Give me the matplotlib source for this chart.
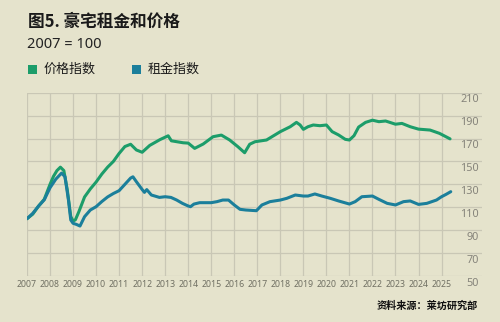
import numpy as np
import matplotlib
matplotlib.use("Agg")
import matplotlib.pyplot as plt
from matplotlib.patches import Rectangle
import matplotlib.transforms as mtrans

plt.rcParams['font.family'] = ['Noto Sans CJK SC', 'DejaVu Sans']

# price index (green)
price_years = [2007.0, 2007.25, 2007.5, 2007.75, 2008.0, 2008.15, 2008.3, 2008.45, 2008.6, 2008.75, 2008.9,
               2009.0, 2009.1, 2009.25, 2009.5, 2009.75, 2010.0, 2010.25, 2010.5, 2010.75, 2011.0,
               2011.25, 2011.5, 2011.75, 2012.0, 2012.33, 2012.77, 2013.13, 2013.27, 2013.78, 2014.0,
               2014.28, 2014.65, 2015.08, 2015.44, 2015.8, 2016.16, 2016.45, 2016.67, 2016.9, 2017.4,
               2018.0, 2018.43, 2018.7, 2018.86, 2019.0, 2019.2, 2019.43, 2019.72, 2020.0, 2020.25,
               2020.53, 2020.82, 2021.0, 2021.2, 2021.4, 2021.7, 2022.0, 2022.28, 2022.57, 2023.0,
               2023.28, 2023.64, 2024.0, 2024.5, 2024.91, 2025.37]
price_vals = [100, 104, 111, 117, 130, 137, 142, 145, 142, 125, 102,
              98, 99, 106, 119, 126, 132, 139, 145, 150, 157,
              163, 165, 160, 158, 164, 169, 172.4, 168, 166.3, 166,
              161.4, 165.2, 171.6, 173, 168.7, 162.8, 157.6, 165, 167.2, 168.7,
              176, 180.3, 184.1, 181.8, 178, 180.3, 181.8, 181.2, 181.8, 176,
              173.1, 169.3, 168.7, 172.5, 180, 184.1, 186, 184.7, 185.3, 182.5,
              183.2, 180.3, 178.2, 177.4, 174.5, 169.7]

# rent index (blue)
rent_years = [2007.0, 2007.25, 2007.5, 2007.75, 2008.0, 2008.25, 2008.5, 2008.65, 2008.8, 2008.9,
              2009.0, 2009.15, 2009.3, 2009.5, 2009.75, 2010.0, 2010.25, 2010.5, 2010.75, 2011.0,
              2011.25, 2011.5, 2011.6, 2011.75, 2012.0, 2012.1, 2012.2, 2012.4, 2012.75, 2013.0,
              2013.25, 2013.5, 2013.75, 2014.0, 2014.1, 2014.25, 2014.5, 2015.0, 2015.25, 2015.5,
              2015.75, 2016.0, 2016.25, 2016.5, 2016.96, 2017.2, 2017.55, 2018.0, 2018.28, 2018.65,
              2019.0, 2019.2, 2019.5, 2019.8, 2020.17, 2020.53, 2021.0, 2021.25, 2021.54, 2022.0,
              2022.28, 2022.64, 2023.0, 2023.35, 2023.64, 2024.0, 2024.36, 2024.78, 2025.0, 2025.2,
              2025.4]
rent_vals = [100, 104.7, 111, 116.5, 127, 134.5, 139.8, 136.7, 116.3, 98.9,
             96, 95, 93.6, 101.8, 107.6, 110.5, 115, 119, 122, 124.5,
             130, 135.5, 136.6, 132.3, 125.5, 123, 125.4, 120.7, 118.6, 119.2,
             118.6, 116.3, 113.4, 111.1, 110.5, 112.8, 114, 114, 114.9, 116.3,
             116.3, 112, 108.2, 107.6, 107, 112, 114.9, 116.3, 117.8, 120.7,
             119.8, 119.8, 121.6, 119.8, 117.8, 115.5, 112.8, 114.9, 119.2, 119.8,
             116.9, 113.4, 112, 114.9, 115.5, 112.5, 113.4, 116.3, 119.2, 121.3,
             123.6]

years = list(range(2007, 2026))
yticks = [50, 70, 90, 110, 130, 150, 170, 190, 210]

bg = '#e5e3cc'
green = '#1c9d6a'
blue = '#1b7f9b'
grid = '#c9c7b5'

fig = plt.figure(figsize=(5, 3.22), dpi=100, facecolor=bg)
ax = fig.add_axes([27/500, 46/322, 455/500, 183.3/322])
ax.set_facecolor(bg)

ax.plot(price_years, price_vals, color=green, lw=2.2, solid_capstyle='round', zorder=3)
ax.plot(rent_years, rent_vals, color=blue, lw=2.2, solid_capstyle='round', zorder=3)

ax.set_xlim(2007, 2007 + 455/23.03)
ax.set_ylim(50, 210)
for y in yticks:
    ax.axhline(y, color=grid, lw=0.9, zorder=1)
for yr in years:
    ax.axvline(yr, color=grid, lw=0.9, zorder=1)

for s in ax.spines.values():
    s.set_visible(False)
ax.set_yticks([])
ax.set_xticks(years)
ax.set_xticklabels([str(y) for y in years], fontsize=6.3, color='#707063', family=['Noto Sans'])
ax.tick_params(axis='x', length=0, pad=3)

off = mtrans.offset_copy(ax.get_yaxis_transform(), fig=fig, x=0, y=-5.2, units='points')
for y in yticks:
    ax.text(0.993, y, str(y), transform=off, ha='right', va='center',
            fontsize=7.8, color='#85837a', family=['Noto Sans'])

fig.text(28/500, 1 - 22/322, '图5. 豪宅租金和价格', fontsize=12, fontweight='bold',
         color='#1a1a1a', va='center', ha='left')
fig.text(27/500, 1 - 45/322, '2007 = 100', fontsize=10.5, color='#222222',
         va='center', ha='left', family=['Noto Sans'])

fig.patches.append(Rectangle((28/500, 1 - 74/322), 9/500, 9/322, transform=fig.transFigure,
                             facecolor=green, edgecolor='none'))
fig.text(44/500, 1 - 69/322, '价格指数', fontsize=9.4, color='#1a1a1a', va='center', ha='left')
fig.patches.append(Rectangle((132/500, 1 - 74/322), 9/500, 9/322, transform=fig.transFigure,
                             facecolor=blue, edgecolor='none'))
fig.text(148/500, 1 - 69/322, '租金指数', fontsize=9.4, color='#1a1a1a', va='center', ha='left')

fig.text(478/500, 1 - 305.5/322, '资料来源：莱坊研究部', fontsize=7.3, fontweight='bold',
         color='#111111', va='center', ha='right')

fig.savefig('out.png', dpi=100, facecolor=bg)
